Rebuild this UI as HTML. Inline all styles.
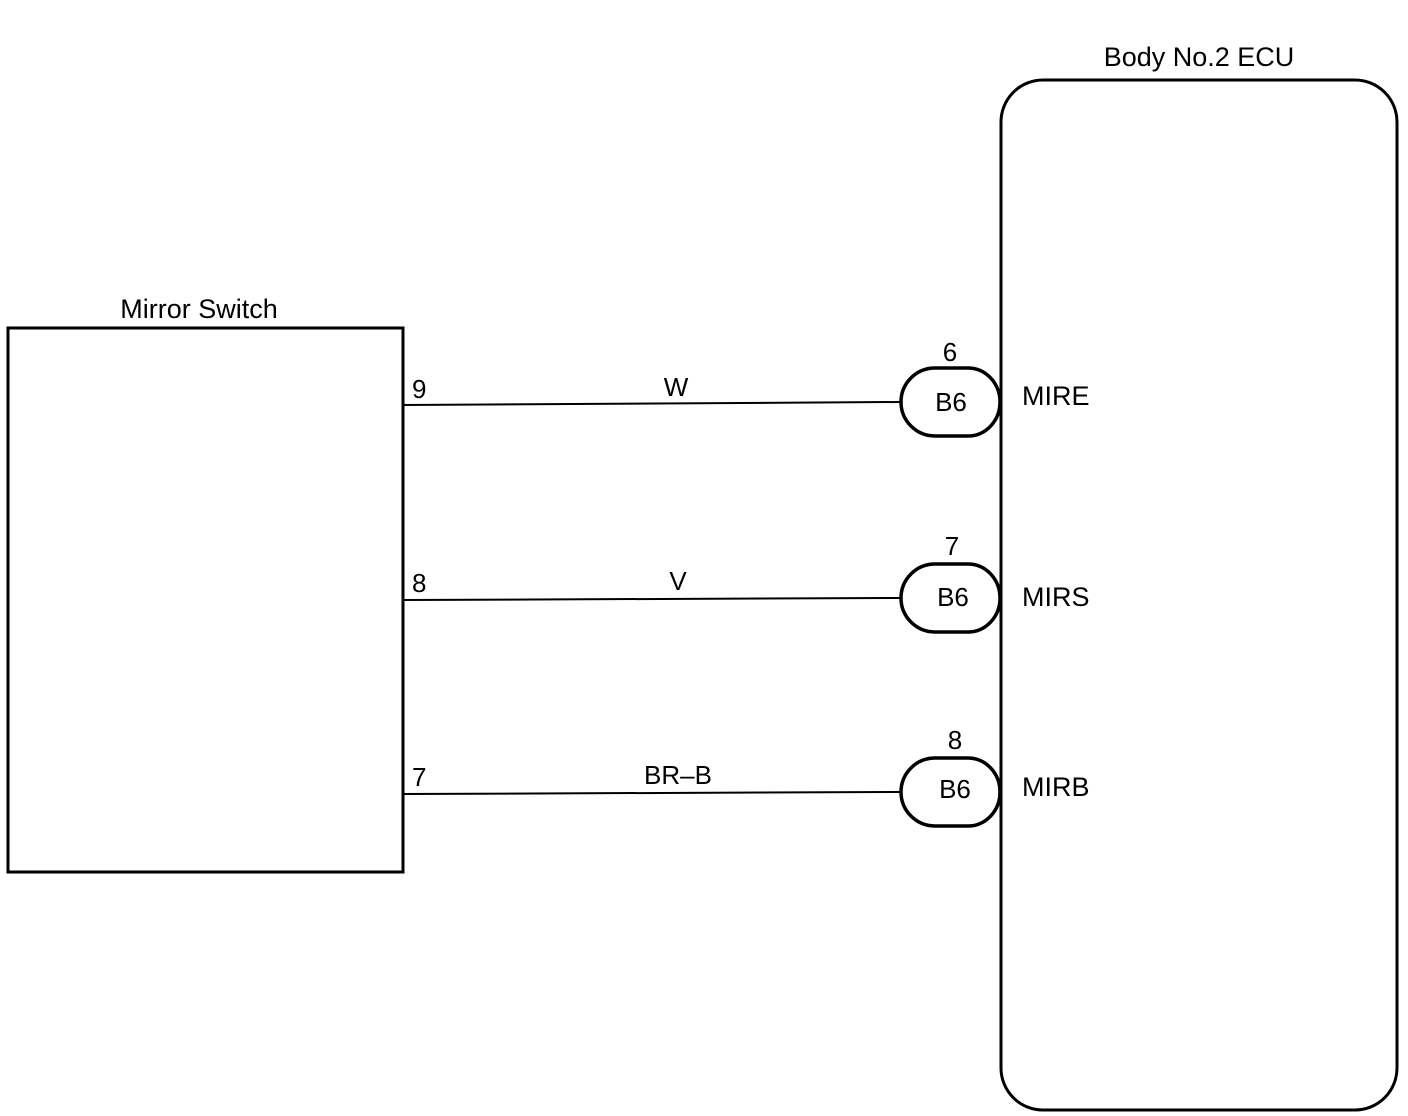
<!DOCTYPE html>
<html><head><style>body{margin:0;background:#fff}svg{display:block}text{font-family:"Liberation Sans",sans-serif;fill:#000}</style></head>
<body>
<svg width="1408" height="1116" viewBox="0 0 1408 1116">
<rect x="8" y="328" width="395" height="544" fill="none" stroke="#000" stroke-width="3"/>
<text x="199" y="318" font-size="27" text-anchor="middle">Mirror Switch</text>
<rect x="1001" y="80" width="396" height="1030" rx="42" fill="none" stroke="#000" stroke-width="3"/>
<text x="1199" y="66" font-size="27" text-anchor="middle">Body No.2 ECU</text>
<g stroke="#000" stroke-width="2" fill="none">
<line x1="403" y1="405" x2="900" y2="402"/>
<line x1="403" y1="600" x2="900" y2="598"/>
<line x1="403" y1="794" x2="900" y2="792"/>
</g>
<g stroke="#000" stroke-width="3.5" fill="none">
<path d="M935 368 H968 A32 34 0 0 1 968 436 H935 A34 34 0 0 1 935 368 Z"/>
<path d="M935 564 H968 A32 34 0 0 1 968 632 H935 A34 34 0 0 1 935 564 Z"/>
<path d="M935 758 H968 A32 34 0 0 1 968 826 H935 A34 34 0 0 1 935 758 Z"/>
</g>
<g font-size="26">
<text x="412" y="398">9</text><text x="412" y="592">8</text><text x="412" y="786">7</text>
<text x="676" y="396" text-anchor="middle">W</text>
<text x="678" y="590" text-anchor="middle">V</text>
<text x="678" y="784" text-anchor="middle">BR–B</text>
<text x="950" y="361" text-anchor="middle">6</text>
<text x="952" y="555" text-anchor="middle">7</text>
<text x="955" y="749" text-anchor="middle">8</text>
<text x="951" y="411" text-anchor="middle">B6</text>
<text x="953" y="606" text-anchor="middle">B6</text>
<text x="955" y="798" text-anchor="middle">B6</text>
</g>
<g font-size="27">
<text x="1022" y="405">MIRE</text>
<text x="1022" y="606">MIRS</text>
<text x="1022" y="796">MIRB</text>
</g>
</svg>
</body></html>
